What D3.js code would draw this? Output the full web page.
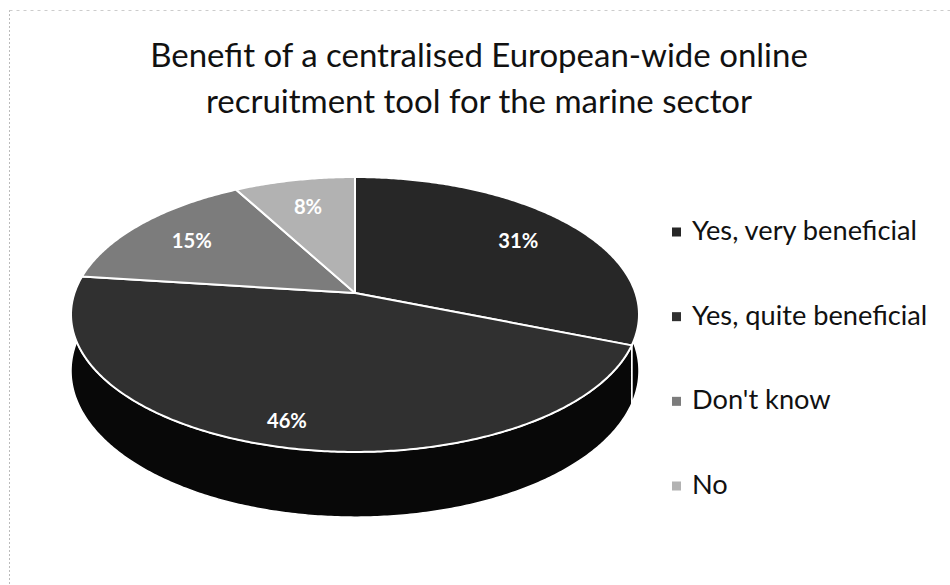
<!DOCTYPE html>
<html>
<head>
<meta charset="utf-8">
<script src="https://cdn.jsdelivr.net/npm/d3@7/dist/d3.min.js"></script>
<style>
  html, body { margin: 0; padding: 0; background: #ffffff; }
  svg { display: block; }
</style>
</head>
<body>
<svg id="chart" width="950" height="585"></svg>
<script>
// ---- data ----
const titleLines = ["Benefit of a centralised European-wide online", "recruitment tool for the marine sector"];
const categories = ["Yes, very beneficial", "Yes, quite beneficial", "Don't know", "No"];
const values = [31, 46, 15, 8];
const valueLabels = ["31%", "46%", "15%", "8%"];
const topColors = ["#272727", "#303030", "#7c7c7c", "#b2b2b2"];
const sideColors = ["#050505", "#080808", "#3a3a3a", "#5a5a5a"];

// ---- layout ----
const W = 950, H = 585;
const svg = d3.select("#chart");
const FONT = "Lato, 'Open Sans', 'DejaVu Sans', sans-serif";

function fitSize(text, targetW, weight) {
  const t = svg.append("text").attr("font-family", FONT).attr("font-size", 30)
    .attr("font-weight", weight || "normal").text(text);
  const w = t.node().getComputedTextLength();
  t.remove();
  return 30 * targetW / w;
}

// faint scan border (left and top)
svg.append("line").attr("x1", 9.5).attr("x2", 9.5).attr("y1", 10).attr("y2", H)
  .attr("stroke", "#bbbbbb").attr("stroke-width", 1).attr("stroke-dasharray", "2,2");
svg.append("line").attr("x1", 9.5).attr("x2", W).attr("y1", 10.5).attr("y2", 10.5)
  .attr("stroke", "#cccccc").attr("stroke-width", 1).attr("stroke-dasharray", "3,4");

// title
const titleX = 479;
const titleBaselines = [67, 113];
const titleSize = fitSize(titleLines[0], 658);
titleLines.forEach((s, i) => {
  svg.append("text")
    .attr("x", titleX).attr("y", titleBaselines[i])
    .attr("text-anchor", "middle")
    .attr("font-family", FONT).attr("font-size", titleSize)
    .attr("fill", "#111111")
    .text(s);
});

// ---- 3D pie projection ----
const cx = 355, cy = 293;       // apex of the pie on screen
const R = 280.5;                // horizontal radius at the centre depth
const B = 134.1;                // vertical radius factor
const K = -0.1563;              // perspective factor
const D0 = 55;                  // thickness at centre depth

function project(theta, f) {
  const u = f * Math.sin(theta);
  const v = -f * Math.cos(theta);
  const den = 1 + K * v;
  return { x: cx + R * u / den, y: cy + B * v / den, d: D0 / den, v: v };
}

const pie = d3.pie().sort(null).value(d => d)(values);
const color = d3.scaleOrdinal().domain(categories).range(topColors);
const sideColor = d3.scaleOrdinal().domain(categories).range(sideColors);

function arcPoints(a0, a1, f) {
  const n = Math.max(4, Math.ceil((a1 - a0) / 0.01));
  return d3.range(n + 1).map(i => project(a0 + (a1 - a0) * i / n, f));
}

const line = d3.line().x(p => p[0]).y(p => p[1]);

// side walls
const gSide = svg.append("g");
pie.forEach((s, i) => {
  const pts = arcPoints(s.startAngle, s.endAngle, 1);
  const topEdge = pts.map(p => [p.x, p.y]);
  const botEdge = pts.map(p => [p.x, p.y + p.d]).reverse();
  gSide.append("path")
    .attr("d", line(topEdge.concat(botEdge)) + "Z")
    .attr("fill", sideColor(categories[i]))
    .attr("stroke", "#ffffff").attr("stroke-width", 1.5).attr("stroke-linejoin", "round");
});

// top faces
const gTop = svg.append("g");
pie.forEach((s, i) => {
  const pts = arcPoints(s.startAngle, s.endAngle, 1).map(p => [p.x, p.y]);
  gTop.append("path")
    .attr("d", line([[cx, cy]].concat(pts)) + "Z")
    .attr("fill", color(categories[i]))
    .attr("stroke", "#ffffff").attr("stroke-width", 2).attr("stroke-linejoin", "round");
});

// data labels
const labelSize = fitSize(valueLabels[0], 40, "bold");
pie.forEach((s, i) => {
  const mid = (s.startAngle + s.endAngle) / 2;
  const f = (-Math.cos(mid) > 0.5) ? 0.85 : 0.75;
  const p = project(mid, f);
  svg.append("text")
    .attr("x", p.x).attr("y", p.y)
    .attr("text-anchor", "middle").attr("dominant-baseline", "central")
    .attr("font-family", FONT).attr("font-weight", "bold").attr("font-size", labelSize)
    .attr("fill", "#ffffff")
    .text(valueLabels[i]);
});

// legend
const legendSize = fitSize(categories[0], 225);
const legendY = d3.scalePoint().domain(categories).range([232, 486]);
const gLeg = svg.append("g");
categories.forEach((c, i) => {
  const y = legendY(c);
  gLeg.append("rect")
    .attr("x", 672).attr("y", y - 4.5).attr("width", 9).attr("height", 9)
    .attr("fill", color(c));
  gLeg.append("text")
    .attr("x", 692).attr("y", y + 8)
    .attr("font-family", FONT).attr("font-size", legendSize)
    .attr("fill", "#111111")
    .text(c);
});
</script>
</body>
</html>
